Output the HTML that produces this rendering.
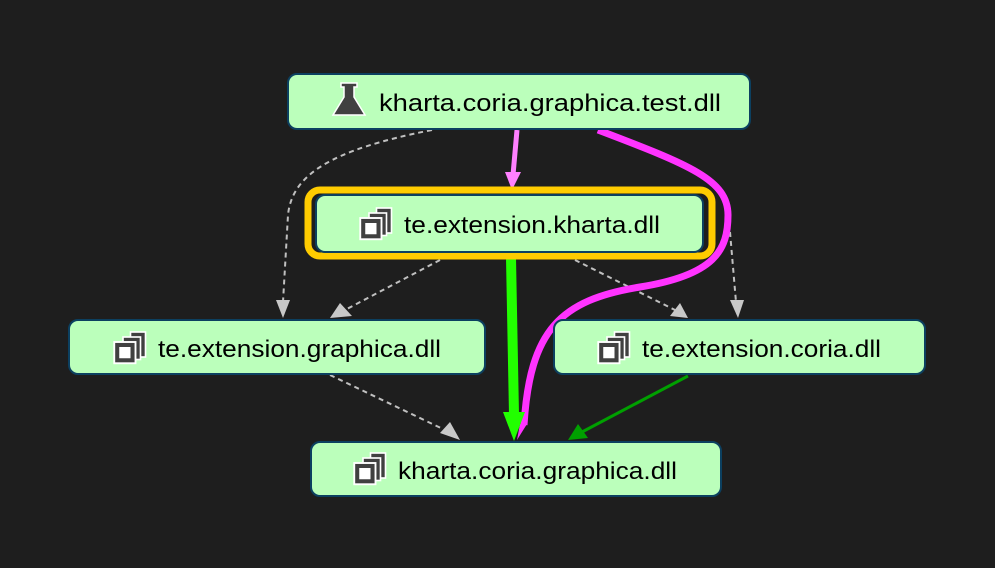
<!DOCTYPE html>
<html><head><meta charset="utf-8"><style>
html,body{margin:0;padding:0;background:#1e1e1e;}
svg{display:block}
text{font-family:"Liberation Sans",sans-serif;font-size:24px;fill:#000}
</style></head><body>
<svg width="995" height="568" viewBox="0 0 995 568" xmlns="http://www.w3.org/2000/svg">
<defs>
<g id="st">
<rect x="14" y="0" width="12" height="20" fill="#404040" stroke="#fff" stroke-width="1.3"/>
<rect x="8" y="4" width="14" height="18" fill="#404040" stroke="#fff" stroke-width="1.3"/>
<rect x="1" y="8" width="17" height="17" fill="#404040" stroke="#fff" stroke-width="1.5"/>
<rect x="5" y="12" width="9" height="9" fill="#fff"/>
</g>
</defs>
<rect width="995" height="568" fill="#1e1e1e"/>
<!-- dashed -->
<g fill="none" stroke="#c0c0c0" stroke-width="2" stroke-dasharray="5,4">
<path d="M432,130 C330,150 292,175 288,215 L283,302"/>
<path d="M440,260 L345,310"/>
<path d="M575,260 L675,310"/>
<path d="M730,232 L736,302"/>
<path d="M330,375 L445,430"/>
</g>
<path d="M276,300 L290,300 L283,318 z" fill="#c8c8c8"/>
<path d="M340,303 L352,316 L330,318 z" fill="#c8c8c8"/>
<path d="M670,316 L680,303 L688,318 z" fill="#c8c8c8"/>
<path d="M730,300 L744,300 L738,318 z" fill="#c8c8c8"/>
<path d="M440,433 L450,422 L460,440 z" fill="#c8c8c8"/>
<!-- magenta thick -->
<path d="M598,130 C690,165 728,180 728,215 C728,250 715,275 640,287 C560,300 530,330 524,425" fill="none" stroke="#ff33ff" stroke-width="7"/>
<path d="M520,424 L527,424 L517,440 z" fill="#ff33ff"/>
<!-- pink -->
<path d="M517,130 L513,175" stroke="#ff80ff" stroke-width="5" fill="none"/>
<path d="M505,172 L521,172 L512,190 z" fill="#ff80ff"/>
<!-- green thick -->
<path d="M511,258 L514,415" stroke="#22ff00" stroke-width="10" fill="none"/>
<path d="M503,412 L525,412 L514,441 z" fill="#22ff00"/>
<!-- dark green -->
<path d="M688,376 L582,432" stroke="#00a000" stroke-width="3" fill="none"/>
<path d="M568,440 L578,424 L588,438 z" fill="#00a000"/>
<!-- nodes -->
<rect x="288" y="74" width="462" height="55" rx="9" fill="#bbffbb" stroke="#0c4060" stroke-width="2"/>
<rect x="308" y="190" width="404" height="66" rx="12" fill="none" stroke="#ffcc00" stroke-width="7"/>
<rect x="316" y="195" width="387" height="57" rx="9" fill="#bbffbb" stroke="#0c4060" stroke-width="2"/>
<rect x="69" y="320" width="416" height="54" rx="9" fill="#bbffbb" stroke="#0c4060" stroke-width="2"/>
<rect x="554" y="320" width="371" height="54" rx="9" fill="#bbffbb" stroke="#0c4060" stroke-width="2"/>
<rect x="311" y="442" width="410" height="54" rx="9" fill="#bbffbb" stroke="#0c4060" stroke-width="2"/>
<!-- flask icon -->
<path d="M341,83 L357,83 L357,87 L354,87 L354,97 L365,115 L333,115 L344,97 L344,87 L341,87 z" fill="#404040" stroke="#fff" stroke-width="1.5"/>
<use href="#st" transform="translate(359,208) scale(1.25)"/>
<use href="#st" transform="translate(113,332) scale(1.25)"/>
<use href="#st" transform="translate(597,332) scale(1.25)"/>
<use href="#st" transform="translate(353,453) scale(1.25)"/>
<text x="379" y="111" textLength="342" lengthAdjust="spacingAndGlyphs">kharta.coria.graphica.test.dll</text>
<text x="404" y="233" textLength="256" lengthAdjust="spacingAndGlyphs">te.extension.kharta.dll</text>
<text x="158" y="357" textLength="283" lengthAdjust="spacingAndGlyphs">te.extension.graphica.dll</text>
<text x="642" y="357" textLength="239" lengthAdjust="spacingAndGlyphs">te.extension.coria.dll</text>
<text x="398" y="479" textLength="279" lengthAdjust="spacingAndGlyphs">kharta.coria.graphica.dll</text>
</svg>
</body></html>
